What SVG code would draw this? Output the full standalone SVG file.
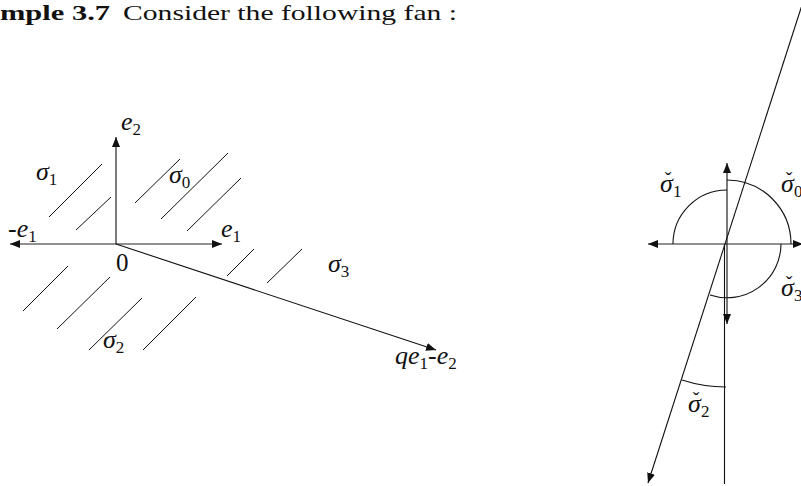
<svg xmlns="http://www.w3.org/2000/svg" width="801" height="486" viewBox="0 0 801 486">
<style>
.ax{stroke:#222;stroke-width:1.2;fill:none}
.ln{stroke:#111;stroke-width:1.1;fill:none}
.ht{stroke:#111;stroke-width:1;fill:none}
text{font-family:"Liberation Serif",serif;fill:#111}
.m{font-style:italic;font-size:26px}
.r{font-size:25px}
.s{font-size:17px;font-style:normal}
.t{font-size:22px}
.cv{font-size:20px;font-style:normal}
</style>
<defs>
<marker id="ah" markerUnits="userSpaceOnUse" markerWidth="11" markerHeight="8" refX="10" refY="4" orient="auto">
<path d="M0,0 L10,4 L0,8 z" fill="#111"/>
</marker>
</defs>
<rect width="801" height="486" fill="#fff"/>
<g id="title">
<text class="t" x="0" y="20" font-weight="bold" textLength="110" lengthAdjust="spacingAndGlyphs">mple 3.7</text>
<text class="t" x="123" y="20" textLength="334" lengthAdjust="spacingAndGlyphs">Consider the following fan :</text>
</g>
<g id="connectors">
<line class="ax" x1="116" y1="244" x2="116" y2="137" marker-end="url(#ah)"/>
<line class="ax" x1="116" y1="244" x2="222" y2="244" marker-end="url(#ah)"/>
<line class="ax" x1="116" y1="244" x2="10" y2="244" marker-end="url(#ah)"/>
<line class="ln" x1="116" y1="244" x2="436" y2="350" marker-end="url(#ah)"/>
<line class="ax" x1="727" y1="244" x2="727" y2="163" marker-end="url(#ah)"/>
<line class="ax" x1="727" y1="244" x2="727" y2="324" marker-end="url(#ah)"/>
<line class="ln" x1="724.5" y1="244" x2="724.5" y2="484"/>
<line class="ax" x1="727" y1="244" x2="648" y2="244" marker-end="url(#ah)"/>
<line class="ax" x1="727" y1="244" x2="803" y2="244" marker-end="url(#ah)"/>
<line class="ln" x1="802" y1="5" x2="648" y2="483" marker-end="url(#ah)"/>
</g>
<g id="hatching">
<line class="ht" x1="49" y1="217" x2="102" y2="164"/>
<line class="ht" x1="76" y1="230" x2="111" y2="197"/>
<line class="ht" x1="135" y1="203" x2="180" y2="159"/>
<line class="ht" x1="161" y1="219" x2="228" y2="153"/>
<line class="ht" x1="187" y1="231" x2="241" y2="178"/>
<line class="ht" x1="23" y1="311" x2="68" y2="266"/>
<line class="ht" x1="57" y1="329" x2="110" y2="277"/>
<line class="ht" x1="89" y1="350" x2="142" y2="298"/>
<line class="ht" x1="143" y1="350" x2="196" y2="297"/>
<line class="ht" x1="227" y1="276" x2="254" y2="249"/>
<line class="ht" x1="267" y1="283" x2="302" y2="249"/>
</g>
<g id="left-labels">
<text class="m" x="121" y="130">e<tspan class="s" dy="5">2</tspan></text>
<text class="m" x="36" y="180">σ<tspan class="s" dy="5">1</tspan></text>
<text class="m" x="169" y="183">σ<tspan class="s" dy="5">0</tspan></text>
<text class="m" x="8" y="237"><tspan font-style="normal">-</tspan>e<tspan class="s" dy="5">1</tspan></text>
<text class="m" x="221" y="237">e<tspan class="s" dy="5">1</tspan></text>
<text class="r" x="116" y="271">0</text>
<text class="m" x="328" y="272">σ<tspan class="s" dy="5">3</tspan></text>
<text class="m" x="103" y="348">σ<tspan class="s" dy="5">2</tspan></text>
<text class="m" x="395" y="364">qe<tspan class="s" dy="5">1</tspan><tspan font-style="normal" dy="-5">-</tspan>e<tspan class="s" dy="5">2</tspan></text>
</g>
<g id="cones">
<path class="ln" d="M727,190 A54,54 0 0 0 673,244"/>
<path class="ln" d="M727,180 A64,64 0 0 1 791,244"/>
<path class="ln" d="M781,244 A54,54 0 0 1 710,295"/>
<path class="ln" d="M682,380 A143,143 0 0 0 726,387"/>
</g>
<g id="right-labels">
<text class="m" x="660" y="192">σ<tspan class="cv" dx="-8" dy="-5">ˇ</tspan><tspan class="s" dx="1.5" dy="10">1</tspan></text>
<text class="m" x="781" y="192">σ<tspan class="cv" dx="-8" dy="-5">ˇ</tspan><tspan class="s" dx="1.5" dy="10">0</tspan></text>
<text class="m" x="781" y="296">σ<tspan class="cv" dx="-8" dy="-5">ˇ</tspan><tspan class="s" dx="1.5" dy="10">3</tspan></text>
<text class="m" x="688" y="412">σ<tspan class="cv" dx="-8" dy="-5">ˇ</tspan><tspan class="s" dx="1.5" dy="10">2</tspan></text>
</g>
</svg>
